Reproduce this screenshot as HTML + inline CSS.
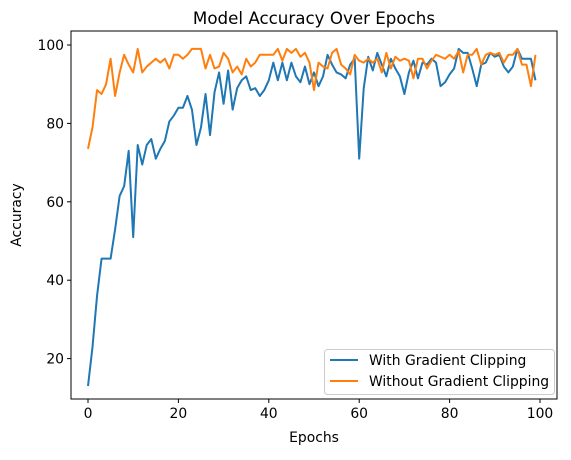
<!DOCTYPE html>
<html><head><meta charset="utf-8"><style>
body{margin:0;background:#fff;}
svg text{font-family:"DejaVu Sans","Liberation Sans",sans-serif;}
</style></head><body>
<svg id="chart" width="571" height="455" xmlns="http://www.w3.org/2000/svg">
<rect width="571" height="455" fill="#fff"/>
<text x="314" y="24" font-size="16.7" text-anchor="middle">Model Accuracy Over Epochs</text>
<g id="plot"></g>
<rect x="71" y="31" width="486" height="368" fill="none" stroke="#000" stroke-width="1"/>
<text x="314" y="442" font-size="13.9" text-anchor="middle">Epochs</text>
<text x="21" y="215" font-size="13.9" text-anchor="middle" transform="rotate(-90 21 215)">Accuracy</text>
<g>
<rect x="324.5" y="349.5" width="230" height="45" fill="#fff" stroke="#ccc" rx="3"/>
<line x1="330" y1="360" x2="358" y2="360" stroke="#1f77b4" stroke-width="2"/>
<text x="369" y="365" font-size="13.9">With Gradient Clipping</text>
<line x1="330" y1="381" x2="358" y2="381" stroke="#ff7f0e" stroke-width="2"/>
<text x="369" y="386" font-size="13.9">Without Gradient Clipping</text>
</g>
</svg>
<script>
const xTicks=[0,20,40,60,80,100];
const yTicks=[20,40,60,80,100];
const withClip=[13,23,36,45.5,45.5,45.5,53,61.5,64,73,51,74.5,69.5,74.5,76,71,73.5,75.5,80.5,82,84,84,87,83.5,74.5,79,87.5,77,88,93,85,93.5,83.5,89,91,92,88.5,89,87,88.5,91,95.5,91,95.5,91,95.5,92,90.5,94.5,90,93,89.5,92,97.5,95,93,92.5,91.5,95,96.5,71,89,97,93.5,98,95,92,96.5,94,92,87.5,93,96,91.5,95.5,95,96.5,95.5,89.5,90.5,92.5,94,99,98,98,94,89.5,95,95.5,98,97,97.5,94.5,93,94.5,99,96.5,96.5,96.5,91];
const withoutClip=[73.5,79,88.5,87.5,90,96.5,87,93,97.5,95,93,99,93,94.5,95.5,96.5,95.5,96.5,94,97.5,97.5,96.5,97.5,99,99,99,94,97.5,94,94.5,98,96.5,93,94.5,92.5,96.5,94.5,95.5,97.5,97.5,97.5,97.5,99,96,99,98,99,97,98,95.5,88.5,95.5,94.5,94,98,99,95,94,92.5,97.5,96,95.5,96.5,95.5,96.5,93,98,94,97,96,96.5,96,91.5,96.5,96.5,94,96,97.5,97,96.5,97.5,96.5,98.5,93,97.5,97.5,99,95,97.5,98,97.5,98,95.5,97.5,97.5,99,95,95,89.5,97.5];
const xS=v=>88+v*4.52;
const yS=v=>437-v*3.92;
const NS='http://www.w3.org/2000/svg';
const g=document.getElementById('plot');
function mk(t,a){const e=document.createElementNS(NS,t);for(const k in a)e.setAttribute(k,a[k]);g.appendChild(e);return e;}
xTicks.forEach(t=>{
  const l=mk('line',{x1:xS(t),x2:xS(t),y1:399,y2:403,stroke:'#000'});
  
  
  const tx=mk('text',{x:xS(t),y:418,'font-size':13.9,'text-anchor':'middle'});tx.textContent=t;
  
  
});
yTicks.forEach(t=>{
  const l=mk('line',{x1:67,x2:71,y1:yS(t),y2:yS(t),stroke:'#000'});
  
  
  const tx=mk('text',{x:64,y:yS(t)+5,'font-size':13.9,'text-anchor':'end'});tx.textContent=t;
  
  
});
function line(d,c,name){
  const p=mk('polyline',{points:d.map((v,i)=>xS(i)+','+yS(v)).join(' '),fill:'none',stroke:c,'stroke-width':2,'stroke-linejoin':'round'});
  
  
}
line(withClip,'#1f77b4','with-clipping-line');
line(withoutClip,'#ff7f0e','without-clipping-line');
</script>
</body></html>
